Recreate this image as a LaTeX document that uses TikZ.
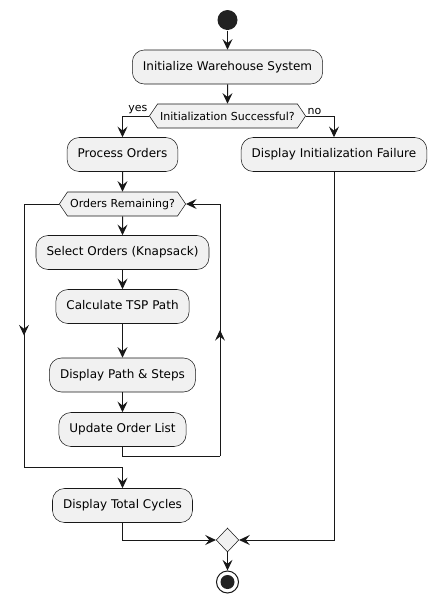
\documentclass[tikz,border=0pt]{standalone}
\usepackage{fontspec}
\setmainfont{DejaVu Sans}
\usetikzlibrary{arrows.meta,shapes.geometric,shapes.symbols,decorations.markings}
\definecolor{umlline}{HTML}{181818}
\definecolor{umlfill}{HTML}{F1F1F1}
\definecolor{umldot}{HTML}{222222}
\tikzset{every picture/.style={line width=0.75pt}}
\tikzset{
actbox/.style={draw=umlline, fill=umlfill, line width=0.4pt, rounded corners=9pt, minimum height=25.5pt, inner xsep=7.9pt, inner ysep=0pt, text height=6.6pt, text depth=1.9pt, font=\fontsize{9}{11}\selectfont},
testbox/.style={signal, signal to=west and east, signal pointer angle=112, draw=umlline, fill=umlfill, line width=0.4pt, minimum height=18pt, inner xsep=2pt, inner ysep=0pt, font=\fontsize{8.25}{10}\selectfont},
mergebox/.style={diamond, draw=umlline, fill=umlfill, line width=0.4pt, minimum width=17pt, minimum height=18pt, inner sep=0pt},
startdot/.style={circle, fill=umldot, minimum size=15pt, inner sep=0pt},
stopring/.style={circle, draw=umlline, fill=white, line width=0.75pt, minimum size=16.5pt, inner sep=0pt, path picture={\fill[umldot] (path picture bounding box.center) circle (5.25pt);}},
flow/.style={draw=umlline, line width=0.75pt},
arr/.style={flow, -{Stealth[length=8pt, width=7.5pt, inset=3pt]}},
midtip/.style={flow, decoration={markings, mark=at position 0.5 with {\arrow{Stealth[length=8pt, width=7.5pt, inset=3pt]}}}, postaction={decorate}},
lbl/.style={font=\fontsize{8.25}{10}\selectfont, inner sep=1pt}
}
\begin{document}
\begin{tikzpicture}[x=0.75pt,y=0.75pt,yscale=-1]
\useasboundingbox (0,0) rectangle (436,604);

% Start
\node[startdot] (start) at (227.5,20) {};

% Text Node
\node[actbox] (init) at (227.5,67) {Initialize Warehouse System};
% Text Node
\node[testbox] (ok) at (227.5,116) {Initialization Successful?};
% Text Node
\node[actbox] (proc) at (122.5,154.5) {Process Orders};
% Text Node
\node[actbox] (fail) at (334,154.5) {Display Initialization Failure};
% Text Node
\node[testbox] (remain) at (122.5,204) {Orders Remaining?};
% Text Node
\node[actbox] (select) at (122.5,252.5) {Select Orders (Knapsack)};
% Text Node
\node[actbox] (tsp) at (122.5,306.5) {Calculate TSP Path};
% Text Node
\node[actbox] (path) at (122.5,375) {Display Path \& Steps};
% Text Node
\node[actbox] (update) at (122.5,429.5) {Update Order List};
% Text Node
\node[actbox] (total) at (122.5,505.5) {Display Total Cycles};

% Merge and stop
\node[mergebox] (merge) at (227.5,540) {};
\node[stopring] (stop) at (227.5,582) {};

% Branch labels
\node[lbl, anchor=south east] (yeslbl) at (ok.west) {yes};
\node[lbl, anchor=south west] (nolbl) at (ok.east) {no};

% Loop corners
\coordinate (exitA) at (24,204);
\coordinate (exitB) at (24,467);
\coordinate (backA) at (220,456);
\coordinate (backB) at (220,204);

%Straight Lines
\draw[arr] (start) -- (init);
\draw[arr] (init) -- (ok);
\draw[arr] (ok.west) -| (proc.north);
\draw[arr] (ok.east) -| (fail.north);
\draw[arr] (proc) -- (remain);
\draw[arr] (remain) -- (select);
\draw[arr] (select) -- (tsp);
\draw[arr] (tsp) -- (path);
\draw[arr] (path) -- (update);

%Loop lines
\draw[flow] (remain.west) -- (exitA);
\draw[midtip] (exitA) -- (exitB);
\draw[arr] (exitB) -| (total.north);
\draw[flow] (update.south) |- (backA);
\draw[midtip] (backA) -- (backB);
\draw[arr] (backB) -- (remain.east);

%Join lines
\draw[arr] (total.south) |- (merge.west);
\draw[arr] (fail.south) |- (merge.east);
\draw[arr] (merge) -- (stop);

\end{tikzpicture}
\end{document}
